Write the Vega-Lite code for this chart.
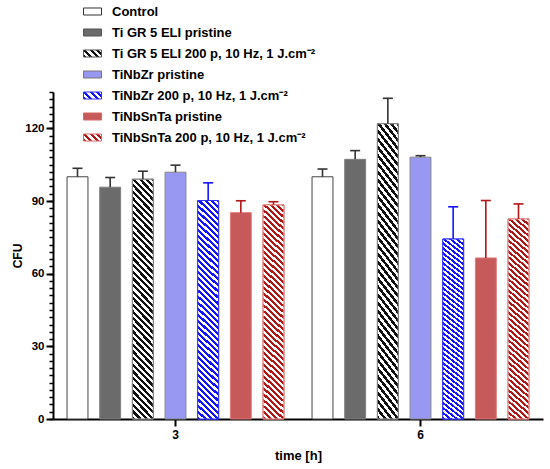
{
  "$schema": "https://vega.github.io/schema/vega-lite/v6.json",
  "width": 490,
  "height": 327,
  "autosize": "none",
  "padding": {"left": 53, "top": 92, "right": 7, "bottom": 50},
  "data": {
    "values": [
      {"time": "3", "group": "Control", "mean": 100, "upper": 103.5},
      {"time": "3", "group": "Ti GR 5 ELI pristine", "mean": 95.7, "upper": 99.7},
      {"time": "3", "group": "Ti GR 5 ELI 200 p, 10 Hz, 1 J.cm⁻²", "mean": 99, "upper": 102.3},
      {"time": "3", "group": "TiNbZr pristine", "mean": 101.9, "upper": 104.8},
      {"time": "3", "group": "TiNbZr 200 p, 10 Hz, 1 J.cm⁻²", "mean": 90.2, "upper": 97.5},
      {"time": "3", "group": "TiNbSnTa pristine", "mean": 85.2, "upper": 90.1},
      {"time": "3", "group": "TiNbSnTa 200 p, 10 Hz, 1 J.cm⁻²", "mean": 88.4, "upper": 89.7},
      {"time": "6", "group": "Control", "mean": 100, "upper": 103.2},
      {"time": "6", "group": "Ti GR 5 ELI pristine", "mean": 107.2, "upper": 110.8},
      {"time": "6", "group": "Ti GR 5 ELI 200 p, 10 Hz, 1 J.cm⁻²", "mean": 121.9, "upper": 132.4},
      {"time": "6", "group": "TiNbZr pristine", "mean": 108.1, "upper": 108.7},
      {"time": "6", "group": "TiNbZr 200 p, 10 Hz, 1 J.cm⁻²", "mean": 74.3, "upper": 87.6},
      {"time": "6", "group": "TiNbSnTa pristine", "mean": 66.5, "upper": 90.2},
      {"time": "6", "group": "TiNbSnTa 200 p, 10 Hz, 1 J.cm⁻²", "mean": 82.6, "upper": 88.8}
    ]
  },
  "encoding": {
    "x": {
      "field": "time",
      "type": "nominal",
      "scale": {"paddingInner": 0, "paddingOuter": 0},
      "axis": {
        "title": "time [h]",
        "labelAngle": 0,
        "domainColor": "black",
        "domainWidth": 2,
        "tickColor": "black",
        "tickWidth": 2,
        "tickSize": 7,
        "labelFontSize": 12,
        "labelFontWeight": "bold",
        "labelColor": "black",
        "labelPadding": 3,
        "titleFontSize": 13,
        "titleFontWeight": "bold",
        "titleColor": "black",
        "titlePadding": 9
      }
    },
    "xOffset": {
      "field": "group",
      "type": "nominal",
      "sort": null,
      "scale": {
        "domain": ["Control", "Ti GR 5 ELI pristine", "Ti GR 5 ELI 200 p, 10 Hz, 1 J.cm⁻²", "TiNbZr pristine", "TiNbZr 200 p, 10 Hz, 1 J.cm⁻²", "TiNbSnTa pristine", "TiNbSnTa 200 p, 10 Hz, 1 J.cm⁻²"],
        "paddingInner": 0.36,
        "paddingOuter": 0.43
      }
    }
  },
  "layer": [
    {
      "mark": {"type": "bar", "strokeWidth": 1},
      "encoding": {
        "y": {
          "field": "mean",
          "type": "quantitative",
          "scale": {"domain": [0, 135], "nice": false},
          "axis": {
            "orient": "left",
            "values": [0, 30, 60, 90, 120],
            "title": "CFU",
            "grid": false,
            "domainColor": "black",
            "domainWidth": 2,
            "tickColor": "black",
            "tickWidth": 2,
            "tickSize": 7,
            "labelFontSize": 11.5,
            "labelFontWeight": "bold",
            "labelColor": "black",
            "labelPadding": 2,
            "titleFontSize": 12,
            "titleFontWeight": "bold",
            "titleColor": "black",
            "titlePadding": 0
          }
        },
        "fill": {
          "field": "group",
          "type": "nominal",
          "scale": {
            "domain": ["Control", "Ti GR 5 ELI pristine", "Ti GR 5 ELI 200 p, 10 Hz, 1 J.cm⁻²", "TiNbZr pristine", "TiNbZr 200 p, 10 Hz, 1 J.cm⁻²", "TiNbSnTa pristine", "TiNbSnTa 200 p, 10 Hz, 1 J.cm⁻²"],
            "range": ["#ffffff", "#6b6b6b", "#111111", "#9898f2", "#1414ff", "#c65959", "#b01818"]
          },
          "legend": null
        },
        "opacity": {
          "field": "group",
          "type": "nominal",
          "sort": null,
          "scale": {"range": [1, 1, 1, 1, 1, 1, 1]},
          "legend": {
            "orient": "none",
            "legendX": 30,
            "legendY": -90,
            "title": null,
            "padding": 0,
            "symbolType": "M-1,-0.39H1V0.39H-1Z",
            "symbolSize": 324,
            "symbolStrokeWidth": 1,
            "symbolFillColor": {"expr": "datum.value === 'Control' ? '#ffffff' : datum.value === 'Ti GR 5 ELI pristine' ? '#6b6b6b' : datum.value === 'TiNbZr pristine' ? '#9898f2' : datum.value === 'TiNbSnTa pristine' ? '#c65959' : indexof(datum.value, 'Ti GR') === 0 ? {gradient: 'linear', x1: 0, y1: 1, x2: 1.207, y2: 0.53, stops: [{offset: 0, color: '#111111'}, {offset: 0.125, color: '#111111'}, {offset: 0.125, color: '#ffffff'}, {offset: 0.25, color: '#ffffff'}, {offset: 0.25, color: '#111111'}, {offset: 0.375, color: '#111111'}, {offset: 0.375, color: '#ffffff'}, {offset: 0.5, color: '#ffffff'}, {offset: 0.5, color: '#111111'}, {offset: 0.625, color: '#111111'}, {offset: 0.625, color: '#ffffff'}, {offset: 0.75, color: '#ffffff'}, {offset: 0.75, color: '#111111'}, {offset: 0.875, color: '#111111'}, {offset: 0.875, color: '#ffffff'}, {offset: 1, color: '#ffffff'}]} : indexof(datum.value, 'TiNbZr') === 0 ? {gradient: 'linear', x1: 0, y1: 1, x2: 1.207, y2: 0.53, stops: [{offset: 0, color: '#1414ff'}, {offset: 0.125, color: '#1414ff'}, {offset: 0.125, color: '#ffffff'}, {offset: 0.25, color: '#ffffff'}, {offset: 0.25, color: '#1414ff'}, {offset: 0.375, color: '#1414ff'}, {offset: 0.375, color: '#ffffff'}, {offset: 0.5, color: '#ffffff'}, {offset: 0.5, color: '#1414ff'}, {offset: 0.625, color: '#1414ff'}, {offset: 0.625, color: '#ffffff'}, {offset: 0.75, color: '#ffffff'}, {offset: 0.75, color: '#1414ff'}, {offset: 0.875, color: '#1414ff'}, {offset: 0.875, color: '#ffffff'}, {offset: 1, color: '#ffffff'}]} : {gradient: 'linear', x1: 0, y1: 1, x2: 1.207, y2: 0.53, stops: [{offset: 0, color: '#b01818'}, {offset: 0.125, color: '#b01818'}, {offset: 0.125, color: '#ffffff'}, {offset: 0.25, color: '#ffffff'}, {offset: 0.25, color: '#b01818'}, {offset: 0.375, color: '#b01818'}, {offset: 0.375, color: '#ffffff'}, {offset: 0.5, color: '#ffffff'}, {offset: 0.5, color: '#b01818'}, {offset: 0.625, color: '#b01818'}, {offset: 0.625, color: '#ffffff'}, {offset: 0.75, color: '#ffffff'}, {offset: 0.75, color: '#b01818'}, {offset: 0.875, color: '#b01818'}, {offset: 0.875, color: '#ffffff'}, {offset: 1, color: '#ffffff'}]}"},
            "symbolStrokeColor": {"expr": "datum.value === 'Control' ? '#333333' : indexof(datum.value, 'Ti GR') === 0 ? '#555555' : datum.value === 'TiNbZr pristine' ? '#777777' : indexof(datum.value, 'TiNbZr') === 0 ? '#3333ff' : '#d86a6a'"},
            "labelFont": "Liberation Sans",
            "labelFontWeight": "bold",
            "labelFontSize": 13,
            "labelColor": "black",
            "labelOffset": 10,
            "labelLimit": 400,
            "rowPadding": 4
          }
        },
        "stroke": {
          "field": "group",
          "type": "nominal",
          "scale": {
            "domain": ["Control", "Ti GR 5 ELI pristine", "Ti GR 5 ELI 200 p, 10 Hz, 1 J.cm⁻²", "TiNbZr pristine", "TiNbZr 200 p, 10 Hz, 1 J.cm⁻²", "TiNbSnTa pristine", "TiNbSnTa 200 p, 10 Hz, 1 J.cm⁻²"],
            "range": ["#444444", "#808080", "#808080", "#888888", "#3333ff", "#e07c7c", "#e07c7c"]
          },
          "legend": null
        }
      }
    },
    {
      "transform": [{"filter": "indexof(datum.group, '200 p') >= 0"}],
      "mark": {
        "type": "bar",
        "strokeWidth": 1,
        "fill": {"gradient": "linear", "x1": 0, "y1": 1, "x2": 0.1, "y2": -0.1, "stops": [
          {"offset": 0, "color": "transparent"}, {"offset": 0.0125, "color": "transparent"}, {"offset": 0.0125, "color": "#ffffff"}, {"offset": 0.025, "color": "#ffffff"},
          {"offset": 0.025, "color": "transparent"}, {"offset": 0.0375, "color": "transparent"}, {"offset": 0.0375, "color": "#ffffff"}, {"offset": 0.05, "color": "#ffffff"},
          {"offset": 0.05, "color": "transparent"}, {"offset": 0.0625, "color": "transparent"}, {"offset": 0.0625, "color": "#ffffff"}, {"offset": 0.075, "color": "#ffffff"},
          {"offset": 0.075, "color": "transparent"}, {"offset": 0.0875, "color": "transparent"}, {"offset": 0.0875, "color": "#ffffff"}, {"offset": 0.1, "color": "#ffffff"},
          {"offset": 0.1, "color": "transparent"}, {"offset": 0.1125, "color": "transparent"}, {"offset": 0.1125, "color": "#ffffff"}, {"offset": 0.125, "color": "#ffffff"},
          {"offset": 0.125, "color": "transparent"}, {"offset": 0.1375, "color": "transparent"}, {"offset": 0.1375, "color": "#ffffff"}, {"offset": 0.15, "color": "#ffffff"},
          {"offset": 0.15, "color": "transparent"}, {"offset": 0.1625, "color": "transparent"}, {"offset": 0.1625, "color": "#ffffff"}, {"offset": 0.175, "color": "#ffffff"},
          {"offset": 0.175, "color": "transparent"}, {"offset": 0.1875, "color": "transparent"}, {"offset": 0.1875, "color": "#ffffff"}, {"offset": 0.2, "color": "#ffffff"},
          {"offset": 0.2, "color": "transparent"}, {"offset": 0.2125, "color": "transparent"}, {"offset": 0.2125, "color": "#ffffff"}, {"offset": 0.225, "color": "#ffffff"},
          {"offset": 0.225, "color": "transparent"}, {"offset": 0.2375, "color": "transparent"}, {"offset": 0.2375, "color": "#ffffff"}, {"offset": 0.25, "color": "#ffffff"},
          {"offset": 0.25, "color": "transparent"}, {"offset": 0.2625, "color": "transparent"}, {"offset": 0.2625, "color": "#ffffff"}, {"offset": 0.275, "color": "#ffffff"},
          {"offset": 0.275, "color": "transparent"}, {"offset": 0.2875, "color": "transparent"}, {"offset": 0.2875, "color": "#ffffff"}, {"offset": 0.3, "color": "#ffffff"},
          {"offset": 0.3, "color": "transparent"}, {"offset": 0.3125, "color": "transparent"}, {"offset": 0.3125, "color": "#ffffff"}, {"offset": 0.325, "color": "#ffffff"},
          {"offset": 0.325, "color": "transparent"}, {"offset": 0.3375, "color": "transparent"}, {"offset": 0.3375, "color": "#ffffff"}, {"offset": 0.35, "color": "#ffffff"},
          {"offset": 0.35, "color": "transparent"}, {"offset": 0.3625, "color": "transparent"}, {"offset": 0.3625, "color": "#ffffff"}, {"offset": 0.375, "color": "#ffffff"},
          {"offset": 0.375, "color": "transparent"}, {"offset": 0.3875, "color": "transparent"}, {"offset": 0.3875, "color": "#ffffff"}, {"offset": 0.4, "color": "#ffffff"},
          {"offset": 0.4, "color": "transparent"}, {"offset": 0.4125, "color": "transparent"}, {"offset": 0.4125, "color": "#ffffff"}, {"offset": 0.425, "color": "#ffffff"},
          {"offset": 0.425, "color": "transparent"}, {"offset": 0.4375, "color": "transparent"}, {"offset": 0.4375, "color": "#ffffff"}, {"offset": 0.45, "color": "#ffffff"},
          {"offset": 0.45, "color": "transparent"}, {"offset": 0.4625, "color": "transparent"}, {"offset": 0.4625, "color": "#ffffff"}, {"offset": 0.475, "color": "#ffffff"},
          {"offset": 0.475, "color": "transparent"}, {"offset": 0.4875, "color": "transparent"}, {"offset": 0.4875, "color": "#ffffff"}, {"offset": 0.5, "color": "#ffffff"},
          {"offset": 0.5, "color": "transparent"}, {"offset": 0.5125, "color": "transparent"}, {"offset": 0.5125, "color": "#ffffff"}, {"offset": 0.525, "color": "#ffffff"},
          {"offset": 0.525, "color": "transparent"}, {"offset": 0.5375, "color": "transparent"}, {"offset": 0.5375, "color": "#ffffff"}, {"offset": 0.55, "color": "#ffffff"},
          {"offset": 0.55, "color": "transparent"}, {"offset": 0.5625, "color": "transparent"}, {"offset": 0.5625, "color": "#ffffff"}, {"offset": 0.575, "color": "#ffffff"},
          {"offset": 0.575, "color": "transparent"}, {"offset": 0.5875, "color": "transparent"}, {"offset": 0.5875, "color": "#ffffff"}, {"offset": 0.6, "color": "#ffffff"},
          {"offset": 0.6, "color": "transparent"}, {"offset": 0.6125, "color": "transparent"}, {"offset": 0.6125, "color": "#ffffff"}, {"offset": 0.625, "color": "#ffffff"},
          {"offset": 0.625, "color": "transparent"}, {"offset": 0.6375, "color": "transparent"}, {"offset": 0.6375, "color": "#ffffff"}, {"offset": 0.65, "color": "#ffffff"},
          {"offset": 0.65, "color": "transparent"}, {"offset": 0.6625, "color": "transparent"}, {"offset": 0.6625, "color": "#ffffff"}, {"offset": 0.675, "color": "#ffffff"},
          {"offset": 0.675, "color": "transparent"}, {"offset": 0.6875, "color": "transparent"}, {"offset": 0.6875, "color": "#ffffff"}, {"offset": 0.7, "color": "#ffffff"},
          {"offset": 0.7, "color": "transparent"}, {"offset": 0.7125, "color": "transparent"}, {"offset": 0.7125, "color": "#ffffff"}, {"offset": 0.725, "color": "#ffffff"},
          {"offset": 0.725, "color": "transparent"}, {"offset": 0.7375, "color": "transparent"}, {"offset": 0.7375, "color": "#ffffff"}, {"offset": 0.75, "color": "#ffffff"},
          {"offset": 0.75, "color": "transparent"}, {"offset": 0.7625, "color": "transparent"}, {"offset": 0.7625, "color": "#ffffff"}, {"offset": 0.775, "color": "#ffffff"},
          {"offset": 0.775, "color": "transparent"}, {"offset": 0.7875, "color": "transparent"}, {"offset": 0.7875, "color": "#ffffff"}, {"offset": 0.8, "color": "#ffffff"},
          {"offset": 0.8, "color": "transparent"}, {"offset": 0.8125, "color": "transparent"}, {"offset": 0.8125, "color": "#ffffff"}, {"offset": 0.825, "color": "#ffffff"},
          {"offset": 0.825, "color": "transparent"}, {"offset": 0.8375, "color": "transparent"}, {"offset": 0.8375, "color": "#ffffff"}, {"offset": 0.85, "color": "#ffffff"},
          {"offset": 0.85, "color": "transparent"}, {"offset": 0.8625, "color": "transparent"}, {"offset": 0.8625, "color": "#ffffff"}, {"offset": 0.875, "color": "#ffffff"},
          {"offset": 0.875, "color": "transparent"}, {"offset": 0.8875, "color": "transparent"}, {"offset": 0.8875, "color": "#ffffff"}, {"offset": 0.9, "color": "#ffffff"},
          {"offset": 0.9, "color": "transparent"}, {"offset": 0.9125, "color": "transparent"}, {"offset": 0.9125, "color": "#ffffff"}, {"offset": 0.925, "color": "#ffffff"},
          {"offset": 0.925, "color": "transparent"}, {"offset": 0.9375, "color": "transparent"}, {"offset": 0.9375, "color": "#ffffff"}, {"offset": 0.95, "color": "#ffffff"},
          {"offset": 0.95, "color": "transparent"}, {"offset": 0.9625, "color": "transparent"}, {"offset": 0.9625, "color": "#ffffff"}, {"offset": 0.975, "color": "#ffffff"},
          {"offset": 0.975, "color": "transparent"}, {"offset": 0.9875, "color": "transparent"}, {"offset": 0.9875, "color": "#ffffff"}, {"offset": 1, "color": "#ffffff"}
        ]}
      },
      "encoding": {
        "y": {"field": "mean", "type": "quantitative", "axis": null},
        "stroke": {"field": "group", "type": "nominal", "legend": null}
      }
    },
    {
      "mark": {"type": "rule", "strokeWidth": 1.6},
      "encoding": {
        "y": {
          "field": "mean",
          "type": "quantitative",
          "axis": {
            "orient": "left",
            "values": [0, 3, 6, 9, 12, 15, 18, 21, 24, 27, 30, 33, 36, 39, 42, 45, 48, 51, 54, 57, 60, 63, 66, 69, 72, 75, 78, 81, 84, 87, 90, 93, 96, 99, 102, 105, 108, 111, 114, 117, 120, 123, 126, 129, 132, 135],
            "labels": false,
            "title": null,
            "domain": false,
            "grid": false,
            "tickColor": "black",
            "tickWidth": 1.5,
            "tickSize": 4
          }
        },
        "y2": {"field": "upper"},
        "color": {
          "field": "group",
          "type": "nominal",
          "scale": {
            "domain": ["Control", "Ti GR 5 ELI pristine", "Ti GR 5 ELI 200 p, 10 Hz, 1 J.cm⁻²", "TiNbZr pristine", "TiNbZr 200 p, 10 Hz, 1 J.cm⁻²", "TiNbSnTa pristine", "TiNbSnTa 200 p, 10 Hz, 1 J.cm⁻²"],
            "range": ["#333333", "#333333", "#333333", "#333333", "#1414ff", "#b01818", "#b01818"]
          },
          "legend": null
        }
      }
    },
    {
      "mark": {"type": "tick", "size": 10, "thickness": 1.6, "opacity": 1},
      "encoding": {
        "y": {"field": "upper", "type": "quantitative", "axis": null},
        "color": {"field": "group", "type": "nominal", "legend": null}
      }
    }
  ],
  "resolve": {"axis": {"y": "independent"}},
  "config": {
    "view": {"stroke": null},
    "font": "Liberation Sans"
  }
}
